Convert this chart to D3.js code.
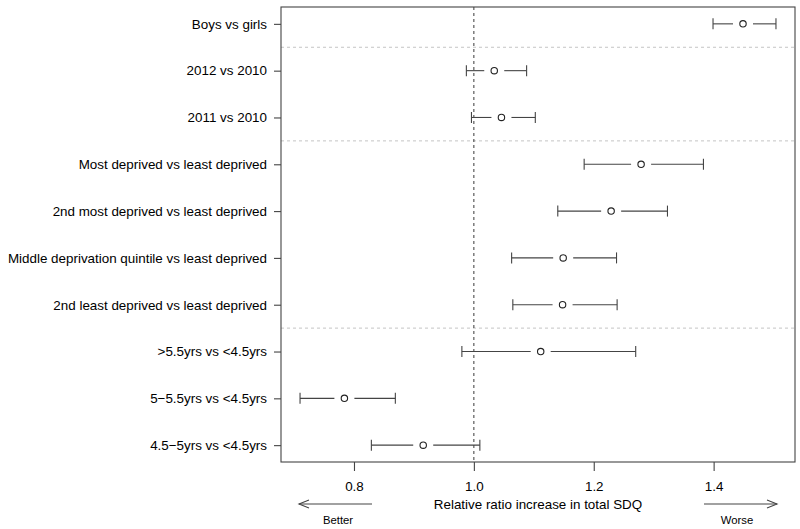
<!DOCTYPE html>
<html>
<head>
<meta charset="utf-8">
<script src="https://cdn.jsdelivr.net/npm/d3@7"></script>
<style>
  html, body { margin: 0; padding: 0; background: #fff; }
  svg { display: block; font-family: "Liberation Sans", Arial, Helvetica, sans-serif; }
</style>
</head>
<body>
<svg id="chart" width="800" height="529"></svg>
<script>
// ---- data ----
const categories = [
  "Boys vs girls",
  "2012 vs 2010",
  "2011 vs 2010",
  "Most deprived vs least deprived",
  "2nd most deprived vs least deprived",
  "Middle deprivation quintile vs least deprived",
  "2nd least deprived vs least deprived",
  ">5.5yrs vs <4.5yrs",
  "5\u22125.5yrs vs <4.5yrs",
  "4.5\u22125yrs vs <4.5yrs"
];
const estimate = [1.449, 1.034, 1.046, 1.279, 1.229, 1.149, 1.148, 1.1115, 0.784, 0.9155];
const lower    = [1.399, 0.9875, 0.996, 1.184, 1.140, 1.063, 1.065, 0.980, 0.710, 0.829];
const upper    = [1.504, 1.088, 1.1025, 1.383, 1.323, 1.238, 1.239, 1.270, 0.869, 1.010];
const separatorsAfter = [1, 3, 7];   // group boundaries (after row n)
const xTicks = [0.8, 1.0, 1.2, 1.4];
const xTitle = "Relative ratio increase in total SDQ";
const leftNote = "Better", rightNote = "Worse";

// ---- layout ----
const svg = d3.select("#chart");
const L = 281, R = 795, T = 7, B = 462;
const fontSize = 13.4;
const lineCol = "#444";

const dmin = d3.min(lower), dmax = d3.max(upper);
const pad = (dmax - dmin) * 0.04;
const x = d3.scaleLinear().domain([dmin - pad, dmax + pad]).range([L, R]);
const n = categories.length;
const ypad = (n - 1) * 0.04;
const y = d3.scaleLinear().domain([1 - ypad, n + ypad]).range([T, B]);

// separators
svg.append("g").selectAll("line").data(separatorsAfter).join("line")
  .attr("x1", L).attr("x2", R)
  .attr("y1", d => y(d + 0.5)).attr("y2", d => y(d + 0.5))
  .attr("stroke", "#c4c4c4").attr("stroke-width", 1)
  .attr("stroke-dasharray", "3,3");

// reference line at 1
svg.append("line")
  .attr("x1", x(1)).attr("x2", x(1)).attr("y1", T).attr("y2", B)
  .attr("stroke", "#222").attr("stroke-width", 0.9)
  .attr("stroke-dasharray", "3,3");

// error bars
const rows = categories.map((c, i) => ({c, i: i + 1, est: estimate[i], lo: lower[i], hi: upper[i]}));
const gap = 10, cap = 5.5;
const g = svg.append("g").attr("stroke", lineCol).attr("stroke-width", 1.1).attr("fill", "none");
rows.forEach(d => {
  const yy = y(d.i);
  const xl = x(d.lo), xh = x(d.hi), xe = x(d.est);
  if (xe - gap > xl) g.append("line").attr("x1", xl).attr("x2", xe - gap).attr("y1", yy).attr("y2", yy);
  if (xe + gap < xh) g.append("line").attr("x1", xe + gap).attr("x2", xh).attr("y1", yy).attr("y2", yy);
  g.append("line").attr("x1", xl).attr("x2", xl).attr("y1", yy - cap).attr("y2", yy + cap);
  g.append("line").attr("x1", xh).attr("x2", xh).attr("y1", yy - cap).attr("y2", yy + cap);
  g.append("circle").attr("cx", xe).attr("cy", yy).attr("r", 3.2).attr("stroke", "#222");
});

// box
svg.append("rect").attr("x", L).attr("y", T).attr("width", R - L).attr("height", B - T)
  .attr("fill", "none").attr("stroke", lineCol).attr("stroke-width", 1.1);

// x axis
const xAxis = d3.axisBottom(x).tickValues(xTicks).tickFormat(d3.format(".1f")).tickSize(9).tickPadding(10);
const xg = svg.append("g").attr("transform", `translate(0,${B})`).call(xAxis);
xg.select(".domain").remove();
xg.selectAll(".tick line").attr("stroke", lineCol).attr("stroke-width", 1.1);
xg.selectAll(".tick text").attr("font-size", fontSize).attr("fill", "#000")
  .attr("font-family", "Liberation Sans, Arial, sans-serif");

// y axis
const yAxis = d3.axisLeft(y).tickValues(d3.range(1, n + 1)).tickFormat(i => categories[i - 1]).tickSize(7).tickPadding(7);
const yg = svg.append("g").attr("transform", `translate(${L},0)`).call(yAxis);
yg.select(".domain").remove();
yg.selectAll(".tick line").attr("stroke", lineCol).attr("stroke-width", 1.1);
yg.selectAll(".tick text").attr("font-size", fontSize).attr("fill", "#000")
  .attr("font-family", "Liberation Sans, Arial, sans-serif");

// x title
svg.append("text").attr("x", (L + R) / 2).attr("y", 505).attr("text-anchor", "middle")
  .attr("dominant-baseline", "middle").attr("font-size", fontSize).text(xTitle);

// arrows
const ay = 504;
function arrow(x1, x2) {
  const dir = Math.sign(x2 - x1);
  const ag = svg.append("g").attr("stroke", lineCol).attr("stroke-width", 1.1).attr("fill", "none");
  ag.append("line").attr("x1", x1).attr("x2", x2).attr("y1", ay).attr("y2", ay);
  ag.append("path").attr("d", `M${x2 - dir * 10},${ay - 4} L${x2},${ay} L${x2 - dir * 10},${ay + 4}`);
}
arrow(372, 299);
arrow(704, 777);
svg.append("text").attr("x", 338).attr("y", 521).attr("text-anchor", "middle")
  .attr("dominant-baseline", "middle").attr("font-size", 11.3).text(leftNote);
svg.append("text").attr("x", 737).attr("y", 521).attr("text-anchor", "middle")
  .attr("dominant-baseline", "middle").attr("font-size", 11.3).text(rightNote);
</script>
</body>
</html>
